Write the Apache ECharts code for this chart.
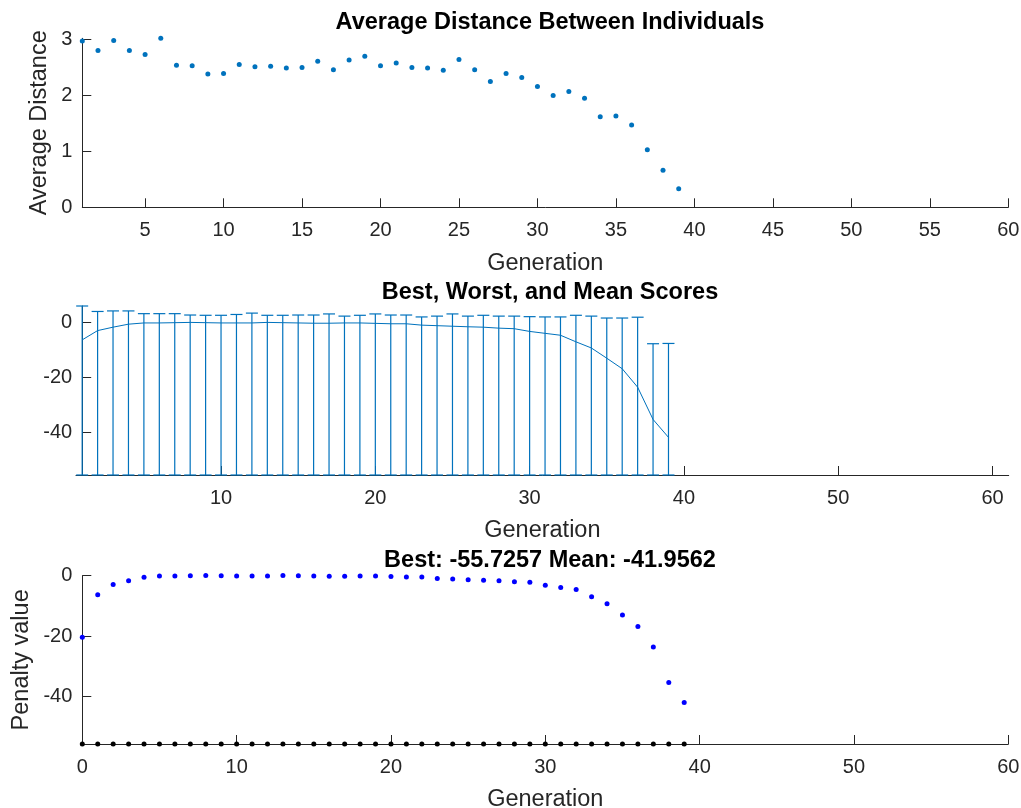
<!DOCTYPE html>
<html>
<head>
<meta charset="utf-8">
<script src="https://cdn.jsdelivr.net/npm/echarts@6/dist/echarts.min.js"></script>
<style>
  html, body { margin: 0; padding: 0; background: #fff; }
  #chart { width: 1021px; height: 808px; }
</style>
</head>
<body>
<div id="chart"></div>
<script>
// Average distance between individuals, generations 1..39
const distGenerations = [1,2,3,4,5,6,7,8,9,10,11,12,13,14,15,16,17,18,19,20,21,22,23,24,25,26,27,28,29,30,31,32,33,34,35,36,37,38,39];
const avgDistance = [2.97,2.80,2.98,2.80,2.73,3.02,2.54,2.53,2.38,2.39,
                     2.55,2.51,2.52,2.49,2.50,2.61,2.46,2.63,2.70,2.53,
                     2.58,2.50,2.49,2.45,2.64,2.46,2.25,2.39,2.32,2.16,
                     2.00,2.07,1.95,1.62,1.63,1.47,1.03,0.66,0.33];

// Penalty per generation, generations 0..39
const generations = [0,1,2,3,4,5,6,7,8,9,10,11,12,13,14,15,16,17,18,19,20,21,22,23,24,25,26,27,28,29,30,31,32,33,34,35,36,37,38,39];
const meanScore = [-20.4,-6.3,-2.9,-1.65,-0.55,-0.1,-0.1,0.0,0.1,0.0,
                   -0.1,-0.1,-0.1,0.1,0.0,-0.1,-0.2,-0.2,-0.1,-0.1,
                   -0.25,-0.4,-0.4,-0.9,-1.1,-1.3,-1.5,-1.65,-2.0,-2.2,
                   -3.2,-3.9,-4.6,-7.0,-9.25,-13.0,-16.85,-23.6,-35.4,-41.9562];
const bestScore = -55.7257;
// Worst score per generation, generations 1..39
const worstScore = [6.1,4.1,4.3,4.3,3.3,3.3,3.3,2.8,2.7,2.7,
                    3.0,3.5,2.7,2.7,2.8,2.8,3.2,2.4,2.7,3.2,
                    2.8,2.8,2.1,2.4,3.2,2.4,2.7,2.4,2.4,2.2,
                    2.1,2.1,2.7,2.4,1.7,1.7,2.0,-7.7,-7.6];

// Tick values
const distXTicks = [5,10,15,20,25,30,35,40,45,50,55,60];
const distYTicks = [0,1,2,3];
const genXTicks = [10,20,30,40,50,60];
const scoreYTicks = [-40,-20,0];
const penaltyXTicks = [0,10,20,30,40,50,60];
const penaltyYTicks = [-40,-20,0];

const AXIS = '#262626';
const MATLAB_BLUE = '#0072BD';
const FONT = 'Liberation Sans, Arial, Helvetica, sans-serif';
const TICK_SIZE = 20;
const LABEL_SIZE = 23.5;

const rangeGens = generations.slice(1);
const rangeMean = meanScore.slice(1);
const lastMean = meanScore[meanScore.length - 1];

function xAxisCfg(gridIndex, min, max, ticks) {
  return {
    type: 'value', gridIndex, min, max,
    name: 'Generation', nameLocation: 'middle', nameGap: 44,
    nameTextStyle: { color: AXIS, fontSize: LABEL_SIZE, fontFamily: FONT },
    axisLine: { show: true, onZero: false, lineStyle: { color: AXIS, width: 1 } },
    axisTick: { show: true, inside: true, length: 9, customValues: ticks, lineStyle: { color: AXIS } },
    axisLabel: { customValues: ticks, color: AXIS, fontSize: TICK_SIZE, fontFamily: FONT, margin: 13 },
    splitLine: { show: false }
  };
}
function yAxisCfg(gridIndex, min, max, ticks, name, nameGap, offset) {
  return {
    type: 'value', gridIndex, min, max, offset: offset || 0,
    name: name || '', nameLocation: 'middle', nameGap: nameGap || 30,
    nameMoveOverlap: false,
    nameTextStyle: { color: AXIS, fontSize: LABEL_SIZE, fontFamily: FONT },
    axisLine: { show: true, onZero: false, lineStyle: { color: AXIS, width: 1 } },
    axisTick: { show: true, inside: true, length: 9, customValues: ticks, lineStyle: { color: AXIS } },
    axisLabel: { customValues: ticks, color: AXIS, fontSize: TICK_SIZE, fontFamily: FONT, margin: 10 },
    splitLine: { show: false }
  };
}

const worstMax = Math.max.apply(null, worstScore);
const distMax = Math.max.apply(null, avgDistance);

const chart = echarts.init(document.getElementById('chart'), null, { renderer: 'canvas' });
chart.setOption({
  animation: false,
  backgroundColor: '#ffffff',
  title: [
    { text: 'Average Distance Between Individuals', left: 545, top: 6, textAlign: 'center',
      textStyle: { fontSize: LABEL_SIZE, fontWeight: 'bold', color: '#000', fontFamily: FONT } },
    { text: 'Best, Worst, and Mean Scores', left: 545, top: 276, textAlign: 'center',
      textStyle: { fontSize: LABEL_SIZE, fontWeight: 'bold', color: '#000', fontFamily: FONT } },
    { text: 'Best: ' + bestScore.toFixed(4) + ' Mean: ' + lastMean.toFixed(4), left: 545, top: 544, textAlign: 'center',
      textStyle: { fontSize: LABEL_SIZE, fontWeight: 'bold', color: '#000', fontFamily: FONT } }
  ],
  grid: [
    { left: 82.3, top: 38.3, width: 926, height: 169, outerBoundsMode: 'none' },
    { left: 76, top: 306, width: 932.7, height: 169, outerBoundsMode: 'none' },
    { left: 82.3, top: 575.7, width: 926, height: 168.3, outerBoundsMode: 'none' }
  ],
  xAxis: [
    xAxisCfg(0, 1, 60, distXTicks),
    xAxisCfg(1, 0.6, 61.05, genXTicks),
    xAxisCfg(2, 0, 60, penaltyXTicks)
  ],
  yAxis: [
    yAxisCfg(0, 0, distMax, distYTicks, 'Average Distance', 31),
    yAxisCfg(1, bestScore, worstMax, scoreYTicks, '', 30, -6.2),
    yAxisCfg(2, bestScore, 0, penaltyYTicks, 'Penalty value', 49)
  ],
  series: [
    {
      type: 'scatter', xAxisIndex: 0, yAxisIndex: 0, clip: false,
      data: distGenerations.map((g, i) => [g, avgDistance[i]]),
      symbol: 'circle', symbolSize: 5,
      itemStyle: { color: MATLAB_BLUE, opacity: 1 }
    },
    {
      // range bars: best (bottom) to worst (top), capped at both ends
      type: 'custom', xAxisIndex: 1, yAxisIndex: 1, clip: false,
      data: rangeGens.map((g, i) => [g, bestScore, worstScore[i]]),
      renderItem: function (params, api) {
        const lo = api.coord([api.value(0), api.value(1)]);
        const hi = api.coord([api.value(0), api.value(2)]);
        const half = 6;
        const style = { stroke: MATLAB_BLUE, lineWidth: 1.2 };
        return {
          type: 'group',
          children: [
            { type: 'line', shape: { x1: lo[0], y1: lo[1], x2: hi[0], y2: hi[1] }, style },
            { type: 'line', shape: { x1: hi[0] - half, y1: hi[1], x2: hi[0] + half, y2: hi[1] }, style },
            { type: 'line', shape: { x1: lo[0] - half, y1: lo[1], x2: lo[0] + half, y2: lo[1] }, style }
          ]
        };
      },
      z: 3
    },
    {
      type: 'line', xAxisIndex: 1, yAxisIndex: 1, clip: false,
      data: rangeGens.map((g, i) => [g, rangeMean[i]]),
      showSymbol: false, symbol: 'none',
      lineStyle: { color: MATLAB_BLUE, width: 1 },
      z: 4
    },
    {
      type: 'scatter', xAxisIndex: 2, yAxisIndex: 2, clip: false,
      data: generations.map(g => [g, bestScore]),
      symbol: 'circle', symbolSize: 5,
      itemStyle: { color: '#000000', opacity: 1 },
      z: 5
    },
    {
      type: 'scatter', xAxisIndex: 2, yAxisIndex: 2, clip: false,
      data: generations.map((g, i) => [g, meanScore[i]]),
      symbol: 'circle', symbolSize: 5,
      itemStyle: { color: '#0000FF', opacity: 1 },
      z: 5
    }
  ]
});
</script>
</body>
</html>
